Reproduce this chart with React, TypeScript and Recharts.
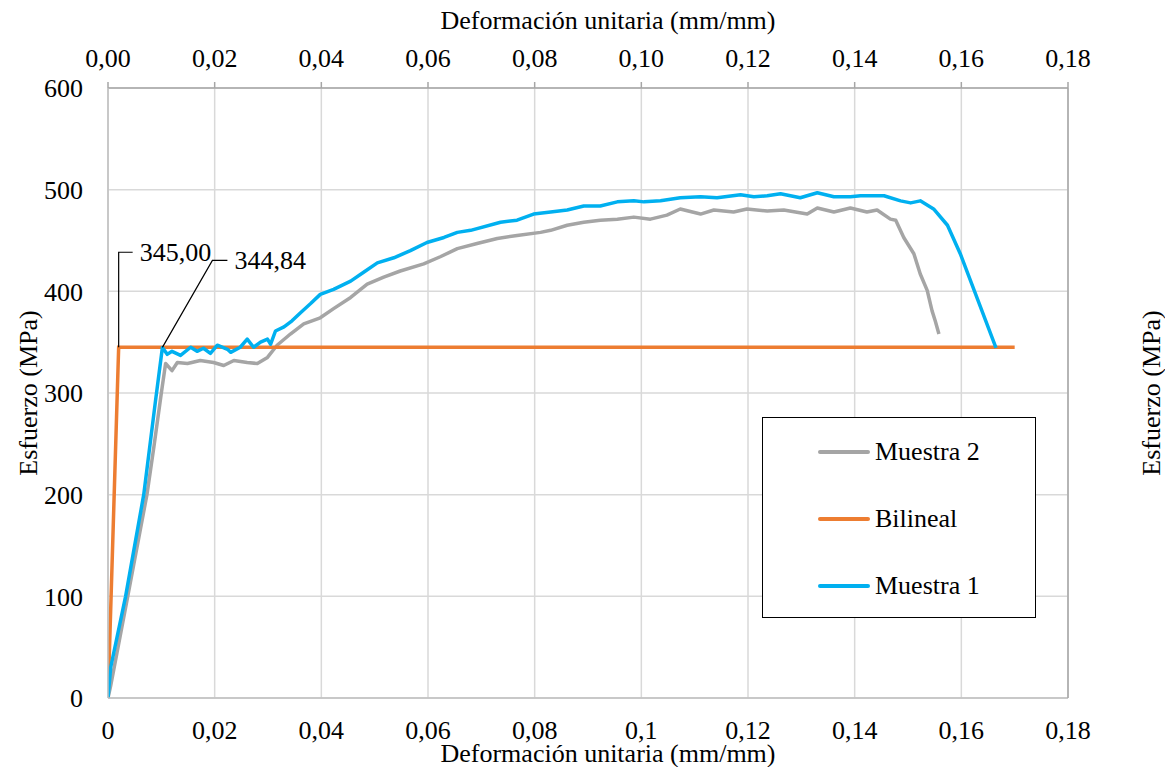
import React from 'react';
import { LineChart, Line, XAxis, YAxis, CartesianGrid, Legend, Customized } from 'recharts';

const xTicks = [0, 0.02, 0.04, 0.06, 0.08, 0.1, 0.12, 0.14, 0.16, 0.18];
const yTicks = [0, 100, 200, 300, 400, 500, 600];

const m1Strain = [0, 0.0005, 0.0033, 0.0067, 0.0089, 0.0102, 0.0111, 0.012, 0.0136, 0.0155, 0.0167, 0.0179, 0.0192, 0.0205, 0.0224, 0.023, 0.0248, 0.0261, 0.0273, 0.0286, 0.0299, 0.0305, 0.0314, 0.033, 0.0345, 0.0361, 0.038, 0.0398, 0.0423, 0.0455, 0.048, 0.0505, 0.0536, 0.0567, 0.0598, 0.063, 0.0655, 0.068, 0.0736, 0.0767, 0.0798, 0.083, 0.0861, 0.0892, 0.0923, 0.0955, 0.0986, 0.1005, 0.1036, 0.1073, 0.1111, 0.1142, 0.1186, 0.1211, 0.1236, 0.1261, 0.1298, 0.133, 0.1361, 0.1392, 0.1411, 0.1455, 0.1486, 0.1505, 0.1523, 0.1548, 0.1574, 0.1598, 0.1665];
const m1Stress = [0, 30, 100, 200, 292, 344.84, 338, 341, 337, 345, 341, 344, 339, 347, 343, 340, 345, 353, 345, 350, 353, 348, 361, 365, 371, 379, 388, 397, 402, 410, 419, 428, 433, 440, 448, 453, 458, 460, 468, 470, 476, 478, 480, 484, 484, 488, 489, 488, 489, 492, 493, 492, 495, 493, 494, 496, 492, 497, 493, 493, 494, 494, 489, 487, 489, 481, 465, 437, 344.5];

const m2Strain = [0, 0.0005, 0.0037, 0.0073, 0.0086, 0.01, 0.0108, 0.012, 0.013, 0.0149, 0.0173, 0.0198, 0.0217, 0.0236, 0.0261, 0.028, 0.0299, 0.0317, 0.0342, 0.0367, 0.0398, 0.0423, 0.0455, 0.0486, 0.0517, 0.0548, 0.0592, 0.0623, 0.0655, 0.0692, 0.073, 0.0767, 0.0811, 0.083, 0.0861, 0.0892, 0.0923, 0.0955, 0.0986, 0.1017, 0.1048, 0.1073, 0.1111, 0.1136, 0.1173, 0.1198, 0.1236, 0.1267, 0.1311, 0.133, 0.1361, 0.1392, 0.1423, 0.1442, 0.1467, 0.1477, 0.1492, 0.1511, 0.1523, 0.1536, 0.1545, 0.1551, 0.1558];
const m2Stress = [0, 12, 100, 200, 247, 300, 329, 322, 330, 329, 332, 330, 327, 332, 330, 329, 335, 347, 358, 368, 374, 383, 394, 407, 414, 420, 427, 434, 442, 447, 452, 455, 458, 460, 465, 468, 470, 471, 473, 471, 475, 481, 476, 480, 478, 481, 479, 480, 476, 482, 478, 482, 478, 480, 471, 470, 453, 437, 417, 401, 381, 371, 358];

const bilStrain = [0, 0.002, 0.17];
const bilStress = [0, 345, 345];

const toPoints = (xs: number[], ys: number[]) => xs.map((x, i) => ({ x, y: ys[i] }));
const m1Data = toPoints(m1Strain, m1Stress);
const m2Data = toPoints(m2Strain, m2Stress);
const bilData = toPoints(bilStrain, bilStress);

const FONT = '"Liberation Serif", "Times New Roman", serif';
const GREY = '#a5a5a5';
const ORANGE = '#ed7d31';
const BLUE = '#00b0f0';

const legendItems = [
  { name: 'Muestra 2', color: GREY },
  { name: 'Bilineal', color: ORANGE },
  { name: 'Muestra 1', color: BLUE },
];

const fmtGeneral = (v: number) => String(v).replace('.', ',');
const fmtFixed = (v: number) => v.toFixed(2).replace('.', ',');

const tickStyle = { fontSize: 26, fill: '#000', fontFamily: FONT };

const fmtLabel = (v: number) => v.toFixed(2).replace('.', ',');

const bilLabel = (p: any) => {
  if (p.index !== 1) return <g key={`bl-${p.index}`} />;
  const { x, y } = p;
  const cy = y - 95;
  return (
    <g key="bl-1">
      <polyline points={`${x},${y} ${x},${cy} ${x + 14},${cy}`} fill="none" stroke="#000" strokeWidth={1.2} />
      <text x={x + 21} y={cy + 9} fontSize={26} fontFamily={FONT} fill="#000">{fmtLabel(p.value)}</text>
    </g>
  );
};

const m1Label = (p: any) => {
  if (p.value !== 344.84) return <g key={`m1-${p.index}`} />;
  const { x, y } = p;
  const cy = y - 87;
  return (
    <g key="m1-l">
      <polyline points={`${x},${y} ${x + 50},${cy} ${x + 65},${cy}`} fill="none" stroke="#000" strokeWidth={1.2} />
      <text x={x + 72} y={cy + 9} fontSize={26} fontFamily={FONT} fill="#000">{fmtLabel(p.value)}</text>
    </g>
  );
};

const Titles = () => (
  <g fontFamily={FONT} fontSize={26} fill="#000">
    <text x={608} y={29} textAnchor="middle">Deformación unitaria (mm/mm)</text>
    <text x={608} y={762} textAnchor="middle">Deformación unitaria (mm/mm)</text>
    <text x={37} y={393} textAnchor="middle" transform="rotate(-90, 37, 393)">Esfuerzo (MPa)</text>
    <text x={1160} y={393} textAnchor="middle" transform="rotate(-90, 1160, 393)">Esfuerzo (MPa)</text>
  </g>
);

const LegendBox = () => (
  <div style={{ position: 'relative', width: 274, height: 201, boxSizing: 'border-box', border: '1px solid #000', background: '#fff', fontFamily: FONT, fontSize: 26 }}>
    {legendItems.map((it, i) => (
      <div key={it.name} style={{ position: 'absolute', left: 55, top: 34 + i * 67 - 15, height: 30, display: 'flex', alignItems: 'center' }}>
        <div style={{ width: 52, height: 4, background: it.color, borderRadius: 2 }} />
        <span style={{ marginLeft: 5, lineHeight: '30px', whiteSpace: 'nowrap' }}>{it.name}</span>
      </div>
    ))}
  </div>
);

export default function App() {
  return (
    <div style={{ position: 'absolute', left: 0, top: 0, width: 1165, height: 767, background: '#fff', fontFamily: FONT }}>
      <style>{`.recharts-wrapper text, .recharts-text, .recharts-cartesian-axis-tick-value { font-family: "Liberation Serif", "Times New Roman", serif !important; }`}</style>
      <LineChart width={1165} height={767} margin={{ top: 0, right: 0, bottom: 0, left: 0 }} style={{ fontFamily: FONT }}>
        <CartesianGrid xAxisId="bottom" yAxisId="left" stroke="#d9d9d9" strokeWidth={1.5} />
        <XAxis xAxisId="bottom" type="number" dataKey="x" domain={[0, 0.18]} ticks={xTicks} interval={0}
          tickFormatter={fmtGeneral} orientation="bottom" height={69} tickLine={false} tickSize={0} tickMargin={23}
          axisLine={{ stroke: '#bfbfbf', strokeWidth: 1.5 }} tick={tickStyle} allowDataOverflow />
        <XAxis xAxisId="top" type="number" dataKey="x" domain={[0, 0.18]} ticks={xTicks} interval={0}
          tickFormatter={fmtFixed} orientation="top" height={88} tickSize={6} tickMargin={15}
          tickLine={{ stroke: '#a6a6a6', strokeWidth: 1.5 }} axisLine={{ stroke: '#a6a6a6', strokeWidth: 1.5 }} tick={tickStyle} allowDataOverflow />
        <YAxis yAxisId="left" type="number" domain={[0, 600]} ticks={yTicks} interval={0} width={108}
          tickLine={false} tickSize={0} tickMargin={25} axisLine={{ stroke: '#bfbfbf', strokeWidth: 1.5 }} tick={tickStyle} />
        <YAxis yAxisId="right" orientation="right" type="number" domain={[0, 600]} ticks={yTicks} interval={0} width={97}
          tickSize={7} tickMargin={14} tickLine={{ stroke: '#a6a6a6', strokeWidth: 1.5 }} axisLine={{ stroke: '#a6a6a6', strokeWidth: 1.5 }} tick={tickStyle} />
        <Line data={m2Data} xAxisId="bottom" yAxisId="left" dataKey="y" name="Muestra 2" type="linear" stroke={GREY} strokeWidth={3.5} strokeLinejoin="round" dot={false} isAnimationActive={false} />
        <Line data={bilData} xAxisId="bottom" yAxisId="left" dataKey="y" name="Bilineal" type="linear" stroke={ORANGE} strokeWidth={3.5} dot={false} isAnimationActive={false} label={bilLabel} />
        <Line data={m1Data} xAxisId="bottom" yAxisId="left" dataKey="y" name="Muestra 1" type="linear" stroke={BLUE} strokeWidth={3.5} strokeLinejoin="round" dot={false} isAnimationActive={false} label={m1Label} />
        <Legend layout="vertical" align="center" verticalAlign="middle" content={() => <LegendBox />}
          wrapperStyle={{ left: 762, top: 417, width: 274, height: 201, bottom: 'auto', right: 'auto' }} />
        <Customized component={Titles} />
      </LineChart>
    </div>
  );
}
